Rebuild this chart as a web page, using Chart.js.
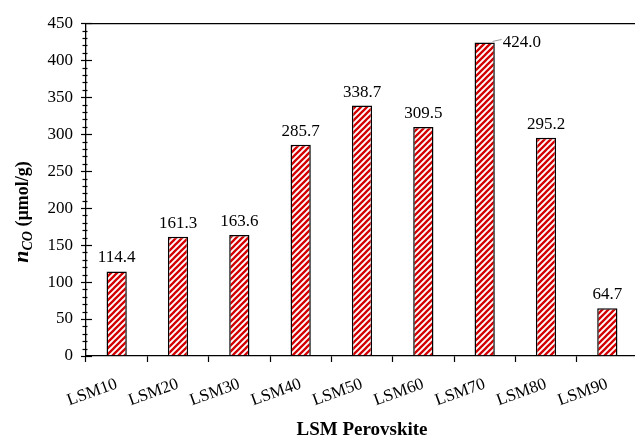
<!DOCTYPE html>
<html>
<head>
<meta charset="utf-8">
<script src="https://cdn.jsdelivr.net/npm/chart.js@4.4.1/dist/chart.umd.min.js"></script>
<style>
  html, body { margin: 0; padding: 0; background: #fff; overflow: hidden; }
  #wrap { width: 645px; height: 441px; }
</style>
</head>
<body>
<div id="wrap"><canvas id="chart" width="645" height="441"></canvas></div>
<script>
// --- data ---
const categories = ['LSM10', 'LSM20', 'LSM30', 'LSM40', 'LSM50', 'LSM60', 'LSM70', 'LSM80', 'LSM90'];
const nCO = [114.4, 161.3, 163.6, 285.7, 338.7, 309.5, 424.0, 295.2, 64.7];
const yTicks = [0, 50, 100, 150, 200, 250, 300, 350, 400, 450];

const serif = "'Liberation Serif', 'Times New Roman', serif";

// hatch pattern for the bars
function makeHatch() {
    const c = document.createElement('canvas');
    c.width = 6; c.height = 6;
    const g = c.getContext('2d');
    g.fillStyle = '#fff';
    g.fillRect(0, 0, 6, 6);
    g.strokeStyle = '#d40000';
    g.lineWidth = 2.3;
    g.beginPath();
    g.moveTo(-1, 7); g.lineTo(7, -1);
    g.moveTo(-4, 4); g.lineTo(4, -4);
    g.moveTo(2, 10); g.lineTo(10, 2);
    g.stroke();
    return g.createPattern(c, 'repeat');
}

// y ticks crossing the axis, with minor ticks every 10
const axisTicks = {
    id: 'axisTicks',
    afterDraw(chart) {
        const ctx = chart.ctx;
        const y = chart.scales.y;
        const x0 = chart.chartArea.left;
        ctx.save();
        ctx.strokeStyle = '#000';
        ctx.lineWidth = 1.2;
        for (let v = 0; v <= 450; v += 10) {
            const py = Math.round(y.getPixelForValue(v)) + 0.5;
            ctx.beginPath();
            if (yTicks.includes(v)) {
                ctx.moveTo(x0 - 5, py); ctx.lineTo(x0 + 6, py);
            } else {
                ctx.moveTo(x0 - 3.5, py); ctx.lineTo(x0 + 1.5, py);
            }
            ctx.stroke();
        }
        ctx.restore();
    }
};

// value labels above the bars
const valueLabels = {
    id: 'valueLabels',
    afterDatasetsDraw(chart) {
        const ctx = chart.ctx;
        const meta = chart.getDatasetMeta(0);
        ctx.save();
        ctx.font = '17px ' + serif;
        ctx.fillStyle = '#000';
        meta.data.forEach((bar, i) => {
            const txt = nCO[i].toFixed(1);
            if (bar.y - 26 < chart.chartArea.top) {
                // no room above: put it to the right with a leader line
                ctx.strokeStyle = '#999';
                ctx.lineWidth = 1;
                ctx.beginPath();
                ctx.moveTo(bar.x + 8, bar.y - 1);
                ctx.lineTo(bar.x + 17, bar.y - 3);
                ctx.stroke();
                ctx.textAlign = 'left';
                ctx.textBaseline = 'middle';
                ctx.fillText(txt, bar.x + 18, bar.y);
            } else {
                ctx.textAlign = 'center';
                ctx.textBaseline = 'alphabetic';
                ctx.fillText(txt, bar.x, bar.y - 9);
            }
        });
        ctx.restore();
    }
};

// y axis title with italic n and subscript CO
const yTitle = {
    id: 'yTitle',
    afterDraw(chart) {
        const ctx = chart.ctx;
        const parts = [
            { t: 'n', f: 'italic bold 22px ' + serif, dy: 0 },
            { t: 'CO', f: 'italic bold 14px ' + serif, dy: 4 },
            { t: ' (\u00b5mol/g)', f: 'bold 18px ' + serif, dy: 0 }
        ];
        ctx.save();
        let total = 0;
        parts.forEach(p => { ctx.font = p.f; p.w = ctx.measureText(p.t).width; total += p.w; });
        ctx.translate(28, 212);
        ctx.rotate(-Math.PI / 2);
        ctx.fillStyle = '#000';
        ctx.textBaseline = 'alphabetic';
        ctx.textAlign = 'left';
        let x = -total / 2;
        parts.forEach(p => {
            ctx.font = p.f;
            ctx.fillText(p.t, x, p.dy);
            x += p.w;
        });
        ctx.restore();
    }
};

const ctx = document.getElementById('chart').getContext('2d');
new Chart(ctx, {
    type: 'bar',
    data: {
        labels: categories,
        datasets: [{
            data: nCO,
            backgroundColor: makeHatch(),
            borderColor: '#000',
            borderWidth: 1.5,
            borderSkipped: 'bottom',
            categoryPercentage: 0.33,
            barPercentage: 1
        }]
    },
    options: {
        responsive: false,
        animation: false,
        layout: { padding: { top: 20, right: 7, left: 0, bottom: 0 } },
        plugins: {
            legend: { display: false },
            tooltip: { enabled: false }
        },
        scales: {
            x: {
                afterFit(scale) { scale.height = 85; },
                grid: {
                    offset: true,
                    drawOnChartArea: false,
                    drawTicks: true,
                    tickLength: 6,
                    tickColor: '#000',
                    tickWidth: 1.2
                },
                border: { color: '#000', width: 1.3 },
                ticks: {
                    color: '#000',
                    font: { family: serif, size: 17 },
                    maxRotation: 20,
                    minRotation: 20,
                    padding: 12
                },
                title: {
                    display: true,
                    text: 'LSM Perovskite',
                    color: '#000',
                    font: { family: serif, size: 19, weight: 'bold' },
                    padding: { top: 0, bottom: 0 }
                }
            },
            y: {
                min: 0,
                max: 450,
                afterFit(scale) { scale.width = 86; },
                afterBuildTicks(scale) { scale.ticks = yTicks.map(v => ({ value: v })); },
                grid: {
                    drawTicks: false,
                    color: c => (c.tick && c.tick.value === 450) ? '#000' : 'rgba(0,0,0,0)',
                    lineWidth: 1.3
                },
                border: { color: '#000', width: 1.3 },
                ticks: {
                    color: '#000',
                    font: { family: serif, size: 17 },
                    padding: 13
                }
            }
        }
    },
    plugins: [axisTicks, valueLabels, yTitle]
});
</script>
</body>
</html>
